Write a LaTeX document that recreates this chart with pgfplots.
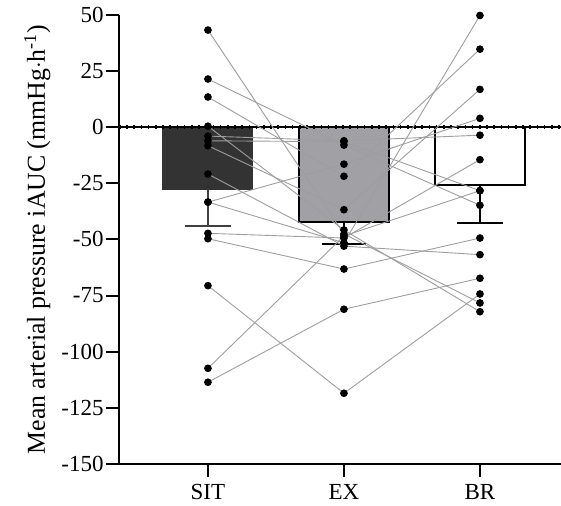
\documentclass[border=0pt]{standalone}
\usepackage{pgfplots}
\pgfplotsset{compat=1.18}
\usepackage{fontspec}
\setmainfont{Liberation Serif}
\definecolor{sitc}{RGB}{51,51,51}
\definecolor{exc}{RGB}{160,160,165}
\definecolor{linec}{RGB}{158,158,158}
\begin{document}
\begin{tikzpicture}
\begin{axis}[
  at={(0,0)}, anchor=south west,
  scale only axis, width=221pt, height=224.6pt,
  xmin=-0.654, xmax=2.596, ymin=-150, ymax=50,
  axis lines=left, axis line style={-, line width=1pt},
  xtick={0,1,2}, xticklabels={SIT,EX,BR},
  ytick={-150,-125,-100,-75,-50,-25,0,25,50},
  yticklabels={-150,-125,-100,-75,-50,-25,0,25,50},
  tick align=outside, major tick length=6.5pt,
  tick style={line width=1pt, black},
  ticklabel style={font=\fontsize{11.5}{13}\selectfont},
  yticklabel style={inner sep=1pt},
  xticklabel style={yshift=0pt},
  ylabel={Mean arterial pressure iAUC (mmHg\(\cdot\)h\textsuperscript{-1})},
  ylabel style={font=\fontsize{12.9}{15}\selectfont, yshift=1pt},
  clip=false,
]
% bars
\addplot[ybar, bar width=45pt, bar shift=0pt, fill=sitc, draw=sitc, line width=0.5pt]
  coordinates {(0,-28.0)};
\addplot[ybar, bar width=45pt, bar shift=0pt, fill=exc, draw=black, line width=0.8pt]
  coordinates {(1,-42.3)};
\addplot[ybar, bar width=45pt, bar shift=0pt, fill=white, draw=black, line width=0.8pt]
  coordinates {(2,-25.8)};
% error bars (mean - SD)
\addplot[black!75, line width=1pt] coordinates {(0,-28.0) (0,-44.1)};
\addplot[black!75, line width=1pt] coordinates {(-0.168,-44.1) (0.168,-44.1)};
\addplot[black, line width=1pt] coordinates {(1,-42.3) (1,-52.1)};
\addplot[black, line width=1pt] coordinates {(0.836,-52.1) (1.164,-52.1)};
\addplot[black, line width=1pt] coordinates {(2,-25.8) (2,-42.6)};
\addplot[black, line width=1pt] coordinates {(1.831,-42.6) (2.169,-42.6)};
% zero line
\addplot[black, line width=0.8pt] coordinates {(-0.654,0) (2.596,0)};
\addplot[black, line width=1.6pt, dash pattern=on 0.8pt off 2.8pt] coordinates {(-0.654,0) (2.596,0)};
% individual participants
\addplot[linec, line width=0.45pt] coordinates {(0,43.2) (1,-47.6) (2,-78.3)};
\addplot[linec, line width=0.45pt] coordinates {(0,21.4) (1,-8.0) (2,-34.8)};
\addplot[linec, line width=0.45pt] coordinates {(0,13.4) (1,-21.9) (2,34.7)};
\addplot[linec, line width=0.45pt] coordinates {(0,0.4) (1,-45.8) (2,-82.2)};
\addplot[linec, line width=0.45pt] coordinates {(0,-4.0) (1,-6.1) (2,-3.6)};
\addplot[linec, line width=0.45pt] coordinates {(0,-6.1) (1,-6.5) (2,-28.3)};
\addplot[linec, line width=0.45pt] coordinates {(0,-8.3) (1,-36.8) (2,16.8)};
\addplot[linec, line width=0.45pt] coordinates {(0,-20.9) (1,-53.0) (2,-56.8)};
\addplot[linec, line width=0.45pt] coordinates {(0,-33.4) (1,-16.5) (2,3.9)};
\addplot[linec, line width=0.45pt] coordinates {(0,-33.4) (1,-51.5) (2,49.7)};
\addplot[linec, line width=0.45pt] coordinates {(0,-47.3) (1,-49.4) (2,-14.5)};
\addplot[linec, line width=0.45pt] coordinates {(0,-49.7) (1,-63.2) (2,-49.4)};
\addplot[linec, line width=0.45pt] coordinates {(0,-70.6) (1,-118.5) (2,-74.3)};
\addplot[linec, line width=0.45pt] coordinates {(0,-107.4) (1,-48.5) (2,-28.3)};
\addplot[linec, line width=0.45pt] coordinates {(0,-113.6) (1,-81.1) (2,-67.3)};
% points
\addplot[only marks, mark=*, mark size=1.7pt, black] coordinates {
  (0,43.2)(0,21.4)(0,13.4)(0,0.4)(0,-4.0)(0,-6.1)(0,-8.3)(0,-20.9)(0,-33.4)(0,-33.4)
  (0,-47.3)(0,-49.7)(0,-70.6)(0,-107.4)(0,-113.6)};
\addplot[only marks, mark=*, mark size=1.7pt, black] coordinates {
  (1,-47.6)(1,-8.0)(1,-21.9)(1,-45.8)(1,-6.1)(1,-6.5)(1,-36.8)(1,-53.0)(1,-16.5)(1,-51.5)
  (1,-49.4)(1,-63.2)(1,-118.5)(1,-48.5)(1,-81.1)};
\addplot[only marks, mark=*, mark size=1.7pt, black] coordinates {
  (2,-78.3)(2,-34.8)(2,34.7)(2,-82.2)(2,-3.6)(2,-28.3)(2,16.8)(2,-56.8)(2,3.9)(2,49.7)
  (2,-14.5)(2,-49.4)(2,-74.3)(2,-28.3)(2,-67.3)};
\end{axis}
\pgfresetboundingbox
\path[use as bounding box] (-59.5pt,-21pt) rectangle (221pt,232pt);
\end{tikzpicture}
\end{document}
